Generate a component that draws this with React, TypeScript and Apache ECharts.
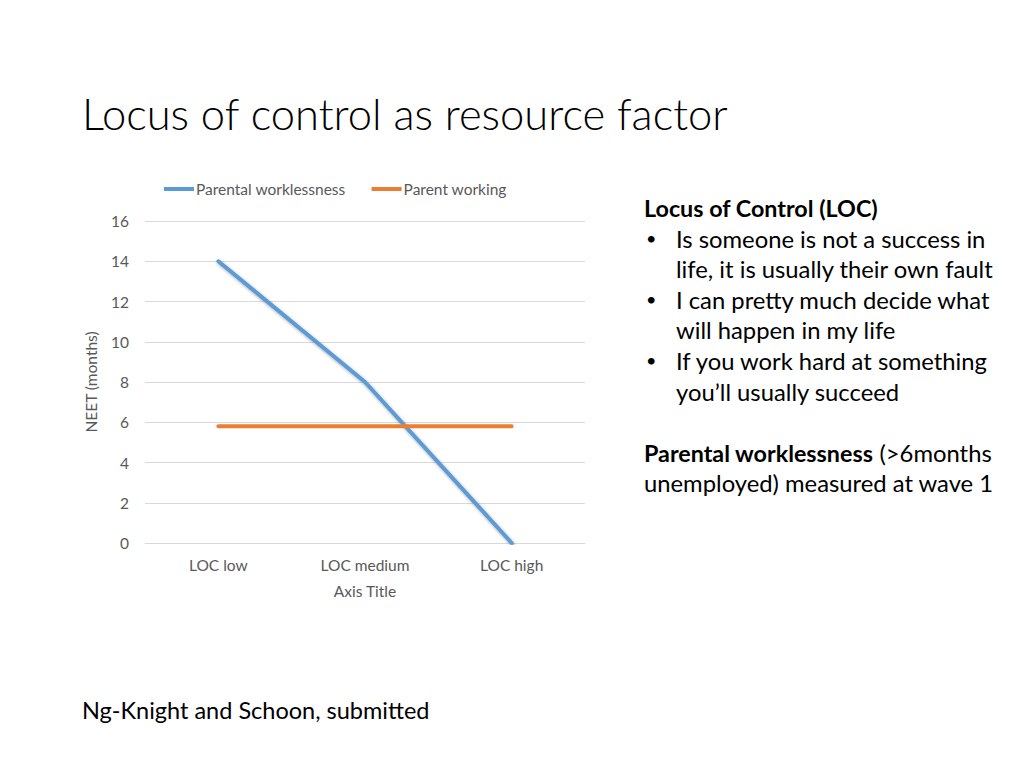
import React, { useEffect, useRef } from "react";
import * as echarts from "echarts";

const categories = ["LOC low", "LOC medium", "LOC high"];
const parentalWorklessness = [14, 8, 0];
const parentWorking = [5.8, 5.8, 5.8];
const seriesNames = ["Parental worklessness", "Parent working"];
const yTicks = { min: 0, max: 16, interval: 2 };

const titleText = "Locus of control as resource factor";
const footerText = "Ng-Knight and Schoon, submitted";
const sideLines: { bullet: boolean; text: string }[] = [
  { bullet: false, text: "{b|Locus of Control (LOC)}" },
  { bullet: true, text: "Is someone is not a success in" },
  { bullet: false, text: "   life, it is usually their own fault" },
  { bullet: true, text: "I can pretty much decide what" },
  { bullet: false, text: "   will happen in my life" },
  { bullet: true, text: "If you work hard at something" },
  { bullet: false, text: "   you\u2019ll usually succeed" },
  { bullet: false, text: "" },
  { bullet: false, text: "{b|Parental worklessness} (>6months" },
  { bullet: false, text: "unemployed) measured at wave 1" },
];

const FONT = "Lato, 'Open Sans', sans-serif";
const AX = 15.5;

export default function App() {
  const ref = useRef<HTMLDivElement>(null);
  useEffect(() => {
    if (!ref.current) return;
    const chart = echarts.init(ref.current, null, { renderer: "svg" });
    const graphics: any[] = [
      {
        type: "text",
        left: 82,
        top: 91,
        style: { text: titleText, font: `300 43.5px ${FONT}`, fill: "#000" },
      },
      {
        type: "text",
        left: 82,
        top: 698,
        style: { text: footerText, font: `400 23.5px ${FONT}`, fill: "#000" },
      },
    ];
    const lineH = 30.6;
    sideLines.forEach((ln, i) => {
      if (!ln.text) return;
      const y = 196 + i * lineH;
      if (ln.bullet) {
        graphics.push({
          type: "text",
          left: 646,
          top: y + 2,
          style: { text: "\u2022", font: `400 18px ${FONT}`, fill: "#000" },
        });
        graphics.push({
          type: "text",
          left: 676,
          top: y,
          style: { text: ln.text, font: `400 23.8px ${FONT}`, fill: "#000" },
        });
      } else {
        const indented = ln.text.startsWith("   ");
        graphics.push({
          type: "text",
          left: indented ? 676 : 644,
          top: y,
          style: {
            text: ln.text.trim(),
            font: `400 23.8px ${FONT}`,
            fill: "#000",
            rich: {
              b: { font: `700 23.3px ${FONT}`, fill: "#000" },
            },
          },
        });
      }
    });

    chart.setOption({
      animation: false,
      backgroundColor: "#fff",
      textStyle: { fontFamily: FONT },
      legend: {
        top: 176,
        left: 159,
        itemWidth: 30,
        itemHeight: 4,
        itemGap: 26,
        icon: "rect",
        textStyle: { color: "#595959", fontSize: AX, padding: [0, 0, 0, -3] },
        data: seriesNames,
      },
      grid: { left: 145, right: 439, top: 221, bottom: 225 },
      xAxis: {
        type: "category",
        data: categories,
        boundaryGap: true,
        axisLine: { lineStyle: { color: "#d9d9d9" } },
        axisTick: { show: false },
        axisLabel: { color: "#595959", fontSize: AX, margin: 14 },
        name: "Axis Title",
        nameLocation: "middle",
        nameGap: 40,
        nameTextStyle: { color: "#595959", fontSize: AX },
      },
      yAxis: {
        type: "value",
        min: yTicks.min,
        max: yTicks.max,
        interval: yTicks.interval,
        axisLine: { show: false },
        axisTick: { show: false },
        splitLine: { lineStyle: { color: "#d9d9d9" } },
        axisLabel: { color: "#595959", fontSize: AX, margin: 16 },
        name: "NEET (months)",
        nameLocation: "middle",
        nameGap: 46,
        nameTextStyle: { color: "#595959", fontSize: AX },
      },
      series: [
        {
          name: seriesNames[0],
          type: "line",
          data: parentalWorklessness,
          symbol: "none",
          color: "#5B9BD5",
          lineStyle: {
            width: 4,
            color: "#5B9BD5",
            cap: "round",
            shadowBlur: 3,
            shadowColor: "rgba(0,0,0,0.35)",
            shadowOffsetY: 1.5,
            shadowOffsetX: 1,
          },
        },
        {
          name: seriesNames[1],
          type: "line",
          data: parentWorking,
          symbol: "none",
          color: "#ED7D31",
          lineStyle: {
            width: 4,
            color: "#ED7D31",
            cap: "round",
          },
        },
      ],
      graphic: graphics,
    });
    return () => chart.dispose();
  }, []);
  return (
    <div
      ref={ref}
      style={{ position: "fixed", left: 0, top: 0, width: 1024, height: 768 }}
    />
  );
}
